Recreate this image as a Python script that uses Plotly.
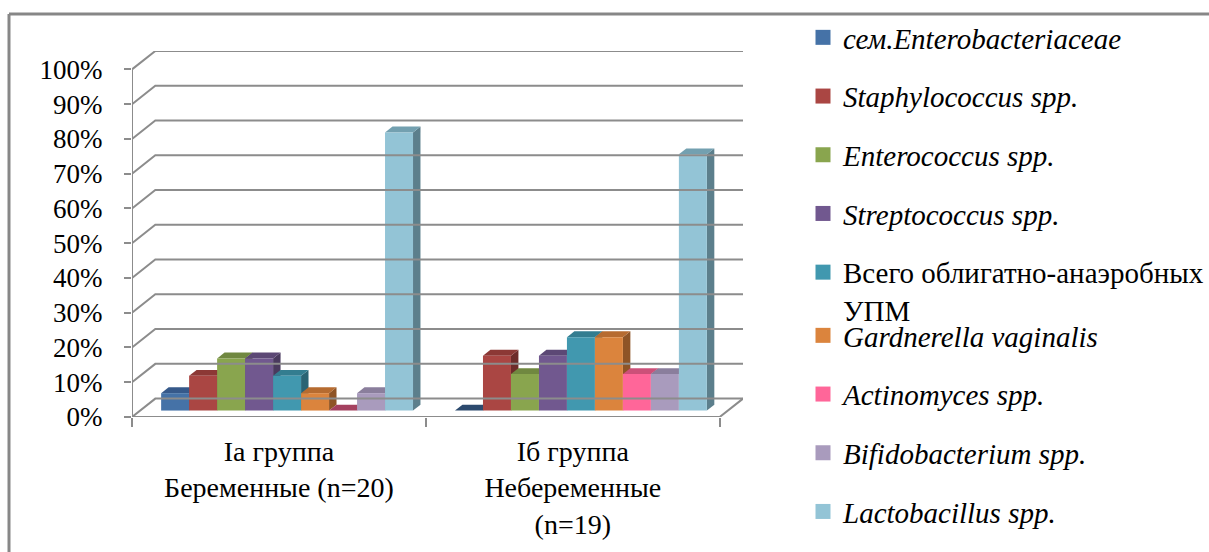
import plotly.graph_objects as go

# Categories (x axis) and series names
groups = ["Iа группа<br>Беременные (n=20)", "Iб группа<br>Небеременные<br>(n=19)"]
series = [
    "<i>сем.Enterobacteriaceae</i>",
    "<i>Staphylococcus spp.</i>",
    "<i>Enterococcus spp.</i>",
    "<i>Streptococcus spp.</i>",
    "Всего облигатно-анаэробных<br>УПМ",
    "<i>Gardnerella vaginalis</i>",
    "<i>Actinomyces spp.</i>",
    "<i>Bifidobacterium spp.</i>",
    "<i>Lactobacillus spp.</i>",
]

# Share of positive findings, % (one value per series)
pregnant = [5, 10, 15, 15, 10, 5, 0, 5, 80]
non_pregnant = [0, 15.8, 10.5, 15.8, 21.1, 21.1, 10.5, 10.5, 73.7]

y_tickvals = [0, 10, 20, 30, 40, 50, 60, 70, 80, 90, 100]
y_ticktext = [f"{v}%" for v in y_tickvals]

# Face colours: front, top, side
front_colors = ["#4572A7", "#AA4643", "#89A54E", "#71588F", "#4198AF",
                "#DB843D", "#FF6699", "#A99BBD", "#93C4D6"]
top_colors = ["#36598A", "#8C3835", "#708840", "#5C4875", "#337D90",
              "#B66B30", "#CC5079", "#8A7E9C", "#73A0B0"]
side_colors = ["#2C4A6E", "#6E2C2A", "#5A6D33", "#4A3A5E", "#2A6474",
               "#8E5426", "#A4405F", "#6F657E", "#5C7F8C"]

# 3-D projection of the depth axis (in data units) and bar layout
DX, DY = 0.0793, 5.29
D_FRONT, D_BACK = 0.35, 0.67
GAP = 1.5
BAR_W = 1.0 / (len(series) + GAP)
GRID = "#8C8C8C"
FONT = "Liberation Serif"

W, H = 1209, 552
ML, MR, MT, MB = 132, 466, 51, 135
PW, PH = W - ML - MR, H - MT - MB


def proj(x, h, d):
    return x + d * DX, h + d * DY


def poly(points):
    xs, ys = [], []
    for x, h, d in points:
        px, py = proj(x, h, d)
        xs.append(px)
        ys.append(py)
    return xs, ys


fig = go.Figure()

# Walls: gridlines run along the left wall then across the back wall
gx, gy = [], []
for v in y_tickvals:
    for x, h, d in [(0, v, 0), (0, v, 1), (len(groups), v, 1)]:
        px, py = proj(x, h, d)
        gx.append(px)
        gy.append(py)
    gx.append(None)
    gy.append(None)
fig.add_trace(go.Scatter(x=gx, y=gy, mode="lines", line=dict(color=GRID, width=2),
                         showlegend=False, hoverinfo="skip", xaxis="x2"))

# Floor front and right edges, vertical front axis
fx, fy = poly([(0, y_tickvals[-1], 0), (0, 0, 0), (len(groups), 0, 0), (len(groups), 0, 1)])
fig.add_trace(go.Scatter(x=fx, y=fy, mode="lines", line=dict(color=GRID, width=2),
                         showlegend=False, hoverinfo="skip"))

# 3-D columns, painted left to right
for g, values in enumerate([pregnant, non_pregnant]):
    for i, v in enumerate(values):
        xl = g + GAP / 2 * BAR_W + i * BAR_W
        xr = xl + BAR_W
        faces = []
        if v > 0:
            faces.append((side_colors[i], [(xr, 0, D_FRONT), (xr, v, D_FRONT), (xr, v, D_BACK), (xr, 0, D_BACK)]))
        faces.append((top_colors[i] if v > 0 else side_colors[i],
                      [(xl, v, D_FRONT), (xr, v, D_FRONT), (xr, v, D_BACK), (xl, v, D_BACK)]))
        if v > 0:
            faces.append((front_colors[i], [(xl, 0, D_FRONT), (xr, 0, D_FRONT), (xr, v, D_FRONT), (xl, v, D_FRONT)]))
        for color, pts in faces:
            xs, ys = poly(pts)
            fig.add_trace(go.Scatter(x=xs, y=ys, fill="toself", fillcolor=color, mode="lines",
                                     line=dict(width=0), showlegend=False, hoverinfo="skip"))

# Legend entries (split in two blocks so the two-line entry keeps even spacing)
for i, name in enumerate(series):
    fig.add_trace(go.Scatter(x=[None], y=[None], mode="markers", name=name,
                             marker=dict(symbol="square", size=15, color=front_colors[i]),
                             legendgroup=str(i), legend="legend" if i < 5 else "legend2"))


def px_x(p):
    return (p - ML) / PW


def px_y(p):
    return (H - MB - p) / PH


legend_style = dict(font=dict(family=FONT, size=29, color="black"), bgcolor="rgba(0,0,0,0)",
                    tracegroupgap=18, valign="top", xanchor="left", yanchor="top",
                    xref="container", yref="container",
                    maxheight=520, itemclick=False, itemdoubleclick=False)

fig.update_layout(
    width=W, height=H,
    margin=dict(l=ML, r=MR, t=MT, b=MB, autoexpand=False),
    paper_bgcolor="white", plot_bgcolor="white",
    font=dict(family=FONT, color="black"),
    xaxis=dict(range=[0, len(groups) + DX], tickvals=[0.5, 1.5], ticktext=groups,
               ticks="", showgrid=False, zeroline=False, showline=False, ticklabelstandoff=15,
               tickfont=dict(family=FONT, size=28, color="black"), fixedrange=True),
    xaxis2=dict(range=[0, len(groups) + DX], overlaying="x", anchor="y",
                tickvals=list(range(len(groups) + 1)), ticks="outside", ticklen=9,
                tickwidth=2, tickcolor=GRID, showticklabels=False, showgrid=False,
                zeroline=False, showline=False, fixedrange=True),
    yaxis=dict(range=[0, y_tickvals[-1] + DY], tickvals=y_tickvals, ticktext=y_ticktext,
               ticks="outside", ticklen=7, tickwidth=2, tickcolor=GRID,
               showgrid=False, zeroline=False, showline=False, ticklabelstandoff=16,
               tickfont=dict(family=FONT, size=27, color="black"), fixedrange=True),
    legend=dict(x=803 / W, y=1 - 12 / H, **legend_style),
    legend2=dict(x=803 / W, y=1 - 310 / H, **legend_style),
    shapes=[
        dict(type="line", xref="paper", yref="paper", x0=px_x(9), x1=px_x(W + 5),
             y0=px_y(14), y1=px_y(14), line=dict(color="#878787", width=3)),
        dict(type="line", xref="paper", yref="paper", x0=px_x(9), x1=px_x(9),
             y0=px_y(14), y1=px_y(H + 5), line=dict(color="#878787", width=3)),
    ],
)

fig.write_html("out.html")
